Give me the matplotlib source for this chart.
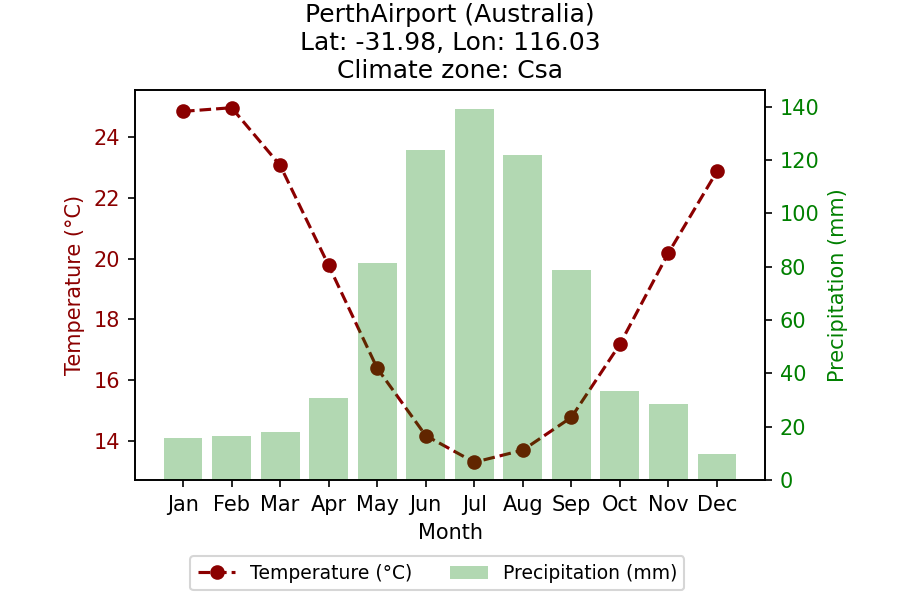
import matplotlib
matplotlib.use("Agg")
import numpy as np
import matplotlib.pyplot as plt

months = ['Jan', 'Feb', 'Mar', 'Apr', 'May', 'Jun', 'Jul', 'Aug', 'Sep', 'Oct', 'Nov', 'Dec']
temp = [24.86, 24.98, 23.08, 19.78, 16.39, 14.17, 13.29, 13.69, 14.77, 17.18, 20.19, 22.88]
precip = [15.9, 16.6, 18.1, 30.9, 81.5, 123.9, 139.3, 122.0, 78.9, 33.5, 28.6, 9.9]

fig, ax1 = plt.subplots(figsize=(6, 4), dpi=150)
fig.subplots_adjust(left=0.15, right=0.85, top=0.85, bottom=0.2)

x = np.arange(len(months))
l1, = ax1.plot(x, temp, color='darkred', linestyle='--', marker='o',
               label='Temperature (°C)')
ax1.set_xlabel('Month')
ax1.set_ylabel('Temperature (°C)', color='darkred')
ax1.tick_params(axis='y', labelcolor='darkred')
ax1.set_xticks(x)
ax1.set_xticklabels(months)

ax2 = ax1.twinx()
b = ax2.bar(x, precip, color='green', alpha=0.3, label='Precipitation (mm)')
ax2.set_ylabel('Precipitation (mm)', color='green')
ax2.tick_params(axis='y', labelcolor='green')

ax1.set_title('PerthAirport (Australia)\nLat: -31.98, Lon: 116.03\nClimate zone: Csa')
ax1.legend([l1, b], ['Temperature (°C)', 'Precipitation (mm)'], loc='upper center',
           bbox_to_anchor=(0.48, -0.172), ncol=2, fontsize=9)

plt.savefig('out.png', dpi=150)
